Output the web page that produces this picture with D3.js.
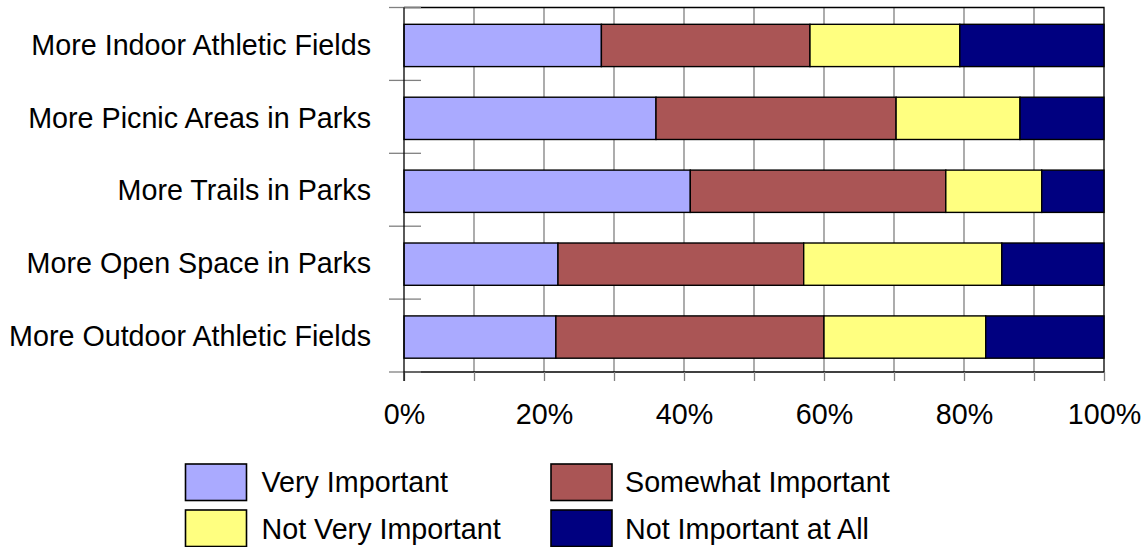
<!DOCTYPE html>
<html>
<head>
    <meta charset="UTF-8" />
    <title>Park Amenities</title>
    <script src="https://d3js.org/d3.v7.min.js"></script>
    <style>
    body { margin: 0; background: #fff; }
    text { font-family: "Liberation Sans", Arial, sans-serif; fill: #000; }
    </style>
</head>

<body>
<div id="main"></div>
<script type="text/javascript">

const categories = [
  "More Indoor Athletic Fields",
  "More Picnic Areas in Parks",
  "More Trails in Parks",
  "More Open Space in Parks",
  "More Outdoor Athletic Fields"
]
const seriesNames = ["Very Important", "Somewhat Important", "Not Very Important", "Not Important at All"]
const veryImportant     = [28.2, 36.0, 40.9, 22.0, 21.7]
const somewhatImportant = [29.8, 34.3, 36.5, 35.1, 38.3]
const notVeryImportant  = [21.4, 17.7, 13.7, 28.3, 23.1]
const notImportantAtAll = [20.6, 12.0, 8.9, 14.6, 16.9]
const tickValues = [0, 10, 20, 30, 40, 50, 60, 70, 80, 90, 100]
const tickLabels = ["0%", "", "20%", "", "40%", "", "60%", "", "80%", "", "100%"]
const colours = ["#aaaaff", "#aa5555", "#ffff80", "#000080"]

const width = 1148
const height = 547
const plotLeft = 404, plotRight = 1104, plotTop = 7.5, plotBottom = 372
const fontSize = "28.7px"

const rows = categories.map((c, i) => ({
  category: c,
  "Very Important": veryImportant[i],
  "Somewhat Important": somewhatImportant[i],
  "Not Very Important": notVeryImportant[i],
  "Not Important at All": notImportantAtAll[i]
}))

const stacked = d3.stack().keys(seriesNames)(rows)

const x = d3.scaleLinear().domain([0, 100]).range([plotLeft, plotRight])
const y = d3.scaleBand()
  .domain(categories)
  .range([plotTop, plotBottom])
  .paddingInner(0.42)
  .paddingOuter(0.21)

const colourScale = d3.scaleOrdinal().domain(seriesNames).range(colours)

const svg = d3.select("#main").append("svg")
  .attr("width", width)
  .attr("height", height)

// vertical gridlines
svg.append("g").selectAll("line").data(tickValues.slice(1, -1)).enter().append("line")
  .attr("x1", d => x(d)).attr("x2", d => x(d))
  .attr("y1", plotTop).attr("y2", plotBottom)
  .attr("stroke", "#808080").attr("stroke-width", 1.3)

// frame: top + right border
svg.append("path")
  .attr("d", `M${plotLeft},${plotTop}H${plotRight}V${plotBottom}`)
  .attr("fill", "none").attr("stroke", "#000").attr("stroke-width", 1.3)

// bottom axis
const xAxis = d3.axisBottom(x)
  .tickValues(tickValues)
  .tickSize(9)
  .tickFormat((d, i) => tickLabels[i])

const gx = svg.append("g")
  .attr("transform", `translate(0,${plotBottom})`)
  .call(xAxis)
gx.select(".domain").attr("stroke", "#000").attr("stroke-width", 1.3)
  .attr("d", `M${plotLeft},0H${plotRight}`)
gx.selectAll(".tick line").attr("stroke", "#808080").attr("stroke-width", 1.3)
gx.selectAll(".tick text")
  .attr("y", 52).attr("dy", 0)
  .style("font-size", fontSize)
  .style("font-family", "'Liberation Sans', Arial, sans-serif")
  .attr("fill", "#000")

// left axis ticks at band boundaries
const boundaries = categories.map(c => y(c) - y.step() * y.paddingInner() / 2)
boundaries[0] = plotTop
boundaries.push(plotBottom)
svg.append("g").selectAll("line").data(boundaries).enter().append("line")
  .attr("x1", plotLeft - 15).attr("x2", plotLeft + 17)
  .attr("y1", d => d).attr("y2", d => d)
  .attr("stroke", "#808080").attr("stroke-width", 1.3)

// bars
svg.append("g").selectAll("g").data(stacked).enter().append("g")
  .attr("fill", d => colourScale(d.key))
  .selectAll("rect").data(d => d).enter().append("rect")
  .attr("x", d => x(d[0]))
  .attr("y", d => y(d.data.category) + 1.5)
  .attr("width", d => x(d[1]) - x(d[0]))
  .attr("height", y.bandwidth())
  .attr("stroke", "#000")
  .attr("stroke-width", 1.4)

// left axis line
svg.append("line")
  .attr("x1", plotLeft).attr("x2", plotLeft)
  .attr("y1", plotTop).attr("y2", plotBottom + 9)
  .attr("stroke", "#000").attr("stroke-width", 1.3)

// category labels
svg.append("g").selectAll("text").data(categories).enter().append("text")
  .attr("x", 371)
  .attr("y", d => y(d) + 1.5 + y.bandwidth() / 2)
  .attr("dy", "0.32em")
  .attr("text-anchor", "end")
  .style("font-size", fontSize)
  .text(d => d)

// legend
const legend = svg.append("g").selectAll("g").data(seriesNames).enter().append("g")
  .attr("transform", (d, i) => `translate(${i % 2 === 0 ? 185.5 : 551}, ${Math.floor(i / 2) === 0 ? 464 : 510})`)

legend.append("rect")
  .attr("width", 61).attr("height", 36.5)
  .attr("fill", d => colourScale(d))
  .attr("stroke", "#000").attr("stroke-width", 1.6)

legend.append("text")
  .attr("x", (d, i) => i % 2 === 0 ? 76 : 74)
  .attr("y", (d, i) => Math.floor(i / 2) === 0 ? 28 : 29)
  .style("font-size", fontSize)
  .text(d => d)

</script>
</body>
</html>
